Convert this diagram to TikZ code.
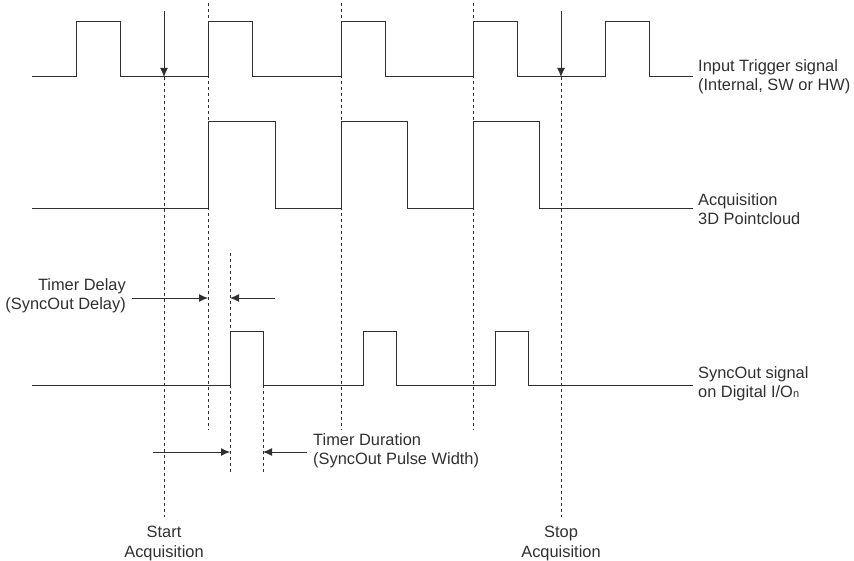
\documentclass[tikz,border=0pt]{standalone}
\usepackage{fontspec}
\setmainfont{Liberation Sans}
\usetikzlibrary{arrows.meta}
\definecolor{ink}{HTML}{303030}
\begin{document}
\begin{tikzpicture}[x=1pt,y=-1pt,
  sig/.style={draw=ink,line width=1pt},
  guide/.style={draw=ink,line width=0.8pt,dash pattern=on 3pt off 3pt},
  arr/.style={draw=ink,line width=0.9pt,-{Latex[length=9pt,width=8pt]}},
  lbl/.style={text=ink,inner sep=0pt,font=\fontsize{16.4}{19.5}\selectfont}]
\useasboundingbox (0,0) rectangle (854,561);
% signals
\path[sig] (32,77) -- (76,77) -- (76,22) -- (120,22) -- (120,77) -- (208,77) -- (208,22) -- (252,22) -- (252,77) -- (341,77) -- (341,22) -- (385,22) -- (385,77) -- (473,77) -- (473,22) -- (517,22) -- (517,77) -- (605,77) -- (605,22) -- (649,22) -- (649,77) -- (693,77) coordinate (trigEnd);
\path[sig] (32,209) -- (208,209) -- (208,122) -- (275,122) -- (275,209) -- (341,209) -- (341,122) -- (407,122) -- (407,209) -- (473,209) -- (473,122) -- (539,122) -- (539,209) -- (693,209) coordinate (acqEnd);
\path[sig] (32,385) -- (230,385) -- (230,331) -- (263,331) -- (263,385) -- (363,385) -- (363,331) -- (396,331) -- (396,385) -- (495,385) -- (495,331) -- (528,331) -- (528,385) -- (693,385) coordinate (syncEnd);
% guide lines
\coordinate (startTop) at (164,11);
\coordinate (startLow) at (164,77);
\coordinate (startBot) at (164,517);
\coordinate (stopTop) at (561,11);
\coordinate (stopLow) at (561,77);
\coordinate (stopBot) at (561,517);
\draw[arr] (startTop) -- (startLow);
\draw[arr] (stopTop) -- (stopLow);
\draw[guide] (startLow) -- (startBot);
\draw[guide] (stopLow) -- (stopBot);
\foreach \x/\n in {208/a,341/b,473/c}{
  \coordinate (g\n t) at (\x,3);
  \coordinate (g\n b) at (\x,430);
  \draw[guide] (g\n t) -- (g\n b);
}
\coordinate (dT) at (230,253);
\coordinate (dB) at (230,473);
\coordinate (wT) at (263,385);
\coordinate (wB) at (263,473);
\draw[guide] (dT) -- (dB);
\draw[guide] (wT) -- (wB);
% dimension arrows
\coordinate (d1s) at (132,298);
\coordinate (d1e) at (208,298);
\coordinate (d2s) at (275,298);
\coordinate (d2e) at (230,298);
\draw[arr] (d1s) -- (d1e);
\draw[arr] (d2s) -- (d2e);
\coordinate (w1s) at (153,452);
\coordinate (w1e) at (230,452);
\coordinate (w2s) at (307,452);
\coordinate (w2e) at (263,452);
\draw[arr] (w1s) -- (w1e);
\draw[arr] (w2s) -- (w2e);
% labels
\node[lbl,anchor=west,align=left] (ltrig) at (698,77) {Input Trigger signal\\(Internal, SW or HW)};
\node[lbl,anchor=west,align=left] (lacq) at (698,209) {Acquisition\\3D Pointcloud};
\node[lbl,anchor=west,align=left] (lsync) at (698,384) {SyncOut signal\\on Digital I/O{\fontsize{11}{12}\selectfont n}};
\node[lbl,anchor=east,align=right] (ldelay) at (126,296) {Timer Delay\\(SyncOut Delay)};
\node[lbl,anchor=west,align=left] (ldur) at (313,451) {Timer Duration\\(SyncOut Pulse Width)};
\node[lbl,anchor=north,align=center] (lstart) at (164,526) {Start\\Acquisition};
\node[lbl,anchor=north,align=center] (lstop) at (561,526) {Stop\\Acquisition};
\end{tikzpicture}
\end{document}
